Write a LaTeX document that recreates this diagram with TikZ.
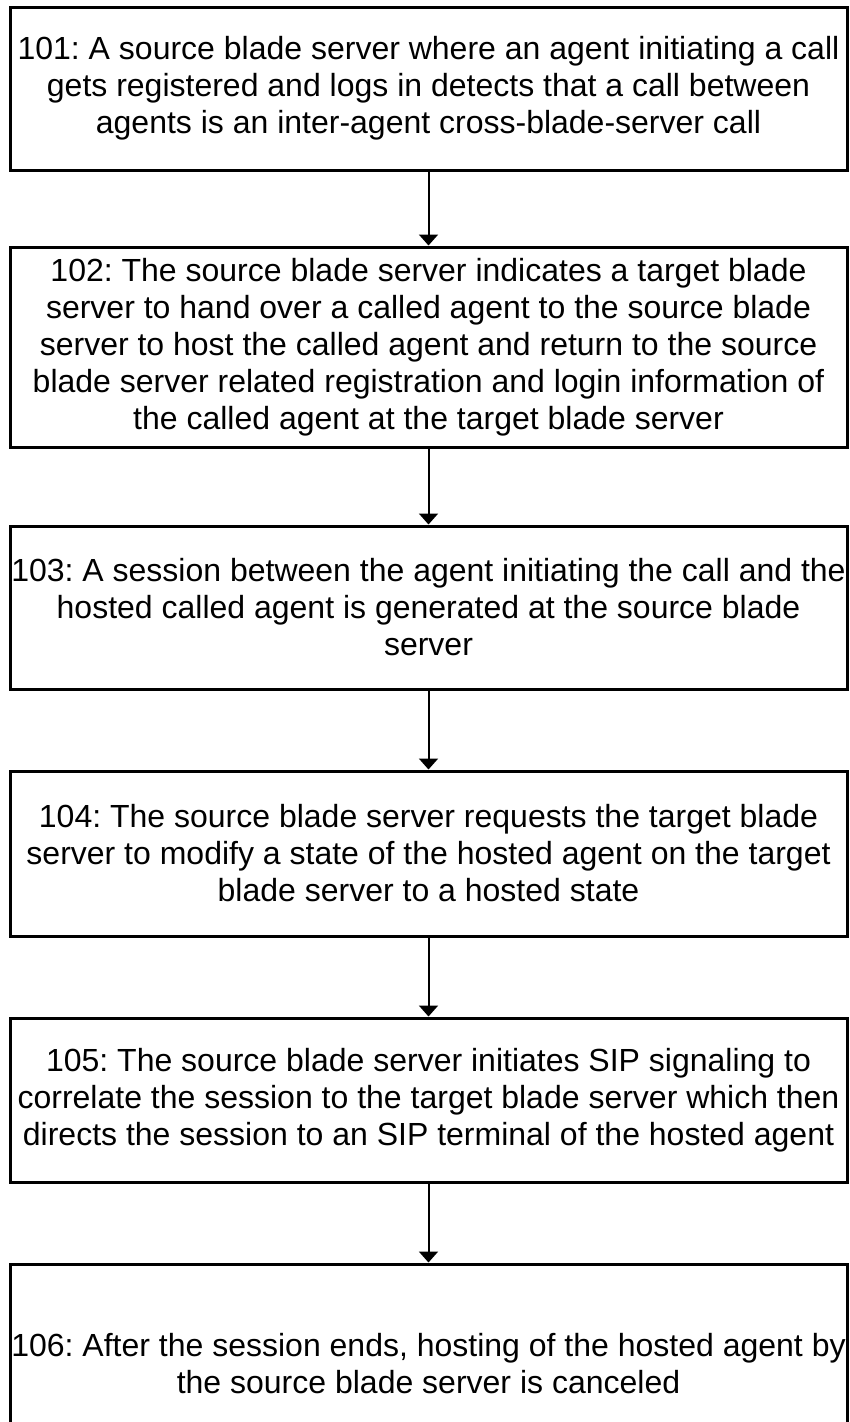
\documentclass[tikz,border=0pt]{standalone}
\usepackage{fontspec}
\setmainfont{Liberation Sans}
\frenchspacing
\usetikzlibrary{arrows.meta}

\tikzset{
    stepbox/.style={draw, line width=3pt, minimum width=837pt, align=center,
        inner sep=0pt, font=\fontsize{32}{37}\selectfont},
    flecha/.style={line width=2pt, -{Triangle[width=19pt,length=11pt]}}
}

\begin{document}
\begin{tikzpicture}[x=1pt,y=1pt]
        % Paso 1: Fija el area de la figura
        \useasboundingbox (0,0) rectangle (849,-1422);

        % Paso 2: Dibuja las cajas de cada etapa
        \node[stepbox, minimum height=163pt] (s101) at (428.5,-88.5)
            {101: A source blade server where an agent initiating a call\\
             gets registered and logs in detects that a call between\\
             agents is an inter-agent cross-blade-server call};
        \node[stepbox, minimum height=200pt] (s102) at (428.5,-347)
            {102: The source blade server indicates a target blade\\
             server to hand over a called agent to the source blade\\
             server to host the called agent and return to the source\\
             blade server related registration and login information of\\
             the called agent at the target blade server};
        \node[stepbox, minimum height=163pt] (s103) at (428.5,-607.5)
            {103: A session between the agent initiating the call and the\\
             hosted called agent is generated at the source blade\\
             server};
        \node[stepbox, minimum height=165pt] (s104) at (428.5,-853.5)
            {104: The source blade server requests the target blade\\
             server to modify a state of the hosted agent on the target\\
             blade server to a hosted state};
        \node[stepbox, minimum height=164pt] (s105) at (428.5,-1100)
            {105: The source blade server initiates SIP signaling to\\
             correlate the session to the target blade server which then\\
             directs the session to an SIP terminal of the hosted agent};
        \node[stepbox, minimum height=200pt] (s106) at (428.5,-1364)
            {106: After the session ends, hosting of the hosted agent by\\
             the source blade server is canceled};

        % Paso 3: Une las cajas con flechas
        \draw[flecha] (s101) -- (s102);
        \draw[flecha] (s102) -- (s103);
        \draw[flecha] (s103) -- (s104);
        \draw[flecha] (s104) -- (s105);
        \draw[flecha] (s105) -- (s106);
\end{tikzpicture}
\end{document}
